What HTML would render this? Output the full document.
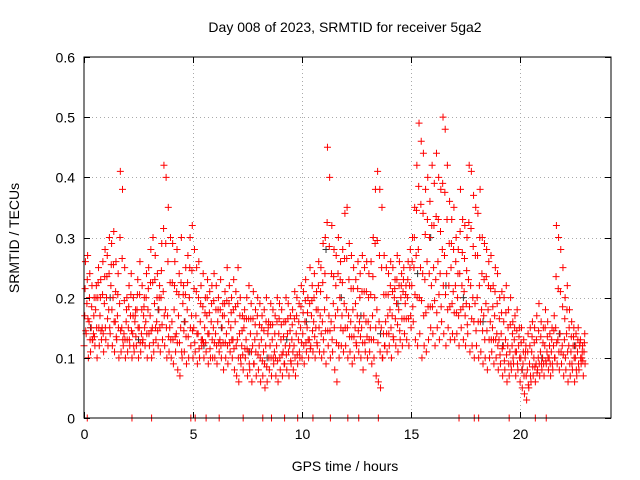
<!DOCTYPE html>
<html><head><meta charset="utf-8"><style>
html,body{margin:0;padding:0;background:#fff;}
svg{display:block;font-family:"Liberation Sans",sans-serif;}
</style></head><body>
<svg id="chart" width="640" height="480" viewBox="0 0 640 480">
<rect width="640" height="480" fill="#fff"/>
<g id="grid"></g>
<g id="pts"></g>
<rect x="84" y="57" width="527" height="361" fill="none" stroke="#000" stroke-width="1"/>
<g id="axes"></g>
<text x="345" y="32" text-anchor="middle" font-size="14">Day 008 of 2023, SRMTID for receiver 5ga2</text>
<text x="345" y="471" text-anchor="middle" font-size="14">GPS time / hours</text>
<text transform="translate(19,238) rotate(-90)" text-anchor="middle" font-size="14">SRMTID / TECUs</text>
</svg>
<script>
const xTicks=[0,5,10,15,20];
const yTicks=[0,0.1,0.2,0.3,0.4,0.5,0.6];
const yTickLabels=["0","0.1","0.2","0.3","0.4","0.5","0.6"];
const seriesHi=[.26,.27,.24,.22,.2,.22,.25,.23,.26,.28,.27,.3,.29,.31,.26,.24,.41,.38,.25,.2,.22,.24,.2,.18,.23,.26,.22,.2,.24,.25,.28,.3,.27,.24,.22,.29,.42,.4,.35,.3,.29,.26,.28,.24,.3,.22,.25,.27,.3,.32,.28,.25,.26,.22,.24,.2,.23,.21,.22,.24,.22,.2,.23,.19,.21,.25,.22,.2,.23,.21,.25,.2,.17,.18,.2,.22,.19,.21,.18,.2,.19,.17,.18,.2,.16,.19,.18,.17,.2,.19,.18,.16,.2,.19,.17,.18,.21,.2,.19,.22,.21,.23,.2,.25,.22,.24,.21,.26,.25,.29,.3,.45,.4,.32,.28,.27,.3,.26,.28,.34,.35,.29,.27,.25,.23,.26,.24,.27,.25,.26,.24,.26,.3,.38,.41,.38,.35,.27,.25,.24,.26,.25,.23,.27,.26,.24,.25,.22,.26,.28,.3,.35,.42,.49,.46,.44,.38,.4,.36,.42,.39,.44,.4,.38,.5,.48,.42,.36,.33,.35,.3,.28,.38,.33,.32,.3,.42,.41,.37,.35,.34,.38,.3,.29,.28,.26,.27,.22,.25,.24,.2,.21,.2,.22,.18,.2,.16,.17,.18,.15,.15,.13,.12,.14,.15,.16,.15,.17,.19,.16,.15,.18,.16,.14,.15,.17,.32,.3,.28,.25,.2,.22,.18,.16,.15,.14,.15,.13,.12,.14];
const seriesMid=[.17,.19,.16,.15,.14,.18,.2,.17,.15,.19,.2,.18,.22,.2,.16,.17,.19,.15,.14,.16,.15,.17,.14,.16,.18,.15,.14,.17,.16,.18,.17,.15,.19,.16,.18,.2,.21,.18,.17,.15,.16,.18,.14,.17,.15,.19,.16,.18,.2,.17,.15,.17,.14,.16,.13,.15,.17,.14,.16,.15,.14,.16,.13,.15,.17,.14,.16,.15,.13,.16,.13,.14,.12,.15,.13,.11,.14,.12,.13,.14,.12,.13,.11,.12,.14,.12,.13,.11,.12,.14,.13,.11,.12,.14,.12,.13,.12,.14,.13,.15,.14,.16,.15,.13,.17,.16,.15,.18,.17,.16,.18,.2,.17,.16,.19,.17,.18,.2,.17,.19,.18,.17,.16,.18,.15,.17,.16,.15,.17,.16,.16,.15,.17,.2,.18,.16,.15,.14,.16,.17,.18,.17,.2,.19,.18,.2,.21,.19,.2,.22,.22,.25,.27,.28,.25,.24,.23,.26,.24,.22,.25,.23,.26,.24,.28,.27,.24,.22,.25,.21,.22,.2,.24,.22,.21,.19,.23,.22,.2,.19,.2,.22,.18,.17,.19,.18,.16,.15,.17,.14,.13,.14,.12,.13,.12,.11,.12,.13,.11,.12,.1,.09,.1,.08,.09,.11,.1,.09,.1,.11,.1,.12,.11,.1,.11,.12,.15,.13,.14,.12,.13,.14,.12,.11,.12,.1,.11,.12,.1,.11];
const seriesLo=[.12,.14,.1,.11,.13,.12,.1,.12,.13,.11,.13,.12,.14,.12,.11,.13,.1,.11,.12,.1,.11,.12,.1,.11,.12,.1,.11,.13,.12,.1,.12,.1,.11,.13,.12,.11,.13,.12,.1,.11,.1,.09,.11,.08,.07,.1,.11,.09,.1,.12,.1,.11,.09,.1,.12,.1,.11,.09,.1,.1,.1,.09,.11,.1,.08,.1,.09,.11,.1,.08,.07,.06,.09,.08,.1,.07,.08,.06,.09,.07,.08,.06,.07,.05,.06,.08,.07,.09,.07,.06,.08,.07,.09,.08,.07,.09,.08,.07,.09,.1,.1,.09,.11,.1,.12,.11,.1,.12,.11,.1,.11,.09,.12,.1,.11,.08,.06,.1,.12,.11,.12,.1,.11,.09,.1,.12,.11,.1,.08,.11,.1,.11,.09,.1,.07,.06,.05,.1,.12,.11,.12,.1,.13,.12,.11,.13,.12,.14,.13,.12,.15,.16,.13,.12,.14,.1,.12,.11,.13,.15,.14,.12,.15,.13,.16,.14,.12,.15,.13,.14,.13,.14,.12,.15,.13,.12,.14,.11,.12,.1,.12,.1,.11,.09,.1,.08,.1,.11,.09,.1,.08,.09,.07,.08,.06,.07,.08,.09,.07,.08,.06,.05,.04,.03,.05,.06,.07,.06,.08,.07,.08,.07,.09,.08,.07,.08,.1,.09,.08,.09,.07,.08,.06,.07,.08,.06,.07,.08,.09,.07];
const grayTimes=[0.3,1.2,2.5,3.4,4.6,5.5,6.3,7.6,8.4,9.3,10.2,11.1,11.8,12.7,13.6,14.4,15.3,15.9,16.6,17.4,18.3,19.2,20.1,21.0,21.8,22.5];
const grayVals=[.15,.2,.13,.18,.16,.12,.15,.11,.1,.13,.16,.28,.2,.17,.14,.19,.24,.3,.22,.2,.16,.12,.08,.1,.14,.12];
const zeroTimes=[0.15,2.2,3.1,4.9,5.1,5.6,6.2,7.3,8.2,8.6,9.2,9.8,10.5,11.3,12.1,12.6,13.5,17.2,17.9,18.1,19.5,20.7,21.2];
const NS="http://www.w3.org/2000/svg";
const X0=84,X1=611,Y0=418,Y1=57,XMAX=24.17,YMAX=0.6;
function sx(t){return X0+(t/XMAX)*(X1-X0);}
function sy(v){return Y0-(v/YMAX)*(Y0-Y1);}
const grid=document.getElementById('grid'),axes=document.getElementById('axes'),pts=document.getElementById('pts');
function line(p,x1,y1,x2,y2,st,dash){const l=document.createElementNS(NS,'line');l.setAttribute('x1',x1);l.setAttribute('y1',y1);l.setAttribute('x2',x2);l.setAttribute('y2',y2);l.setAttribute('stroke',st);l.setAttribute('stroke-width',1);if(dash)l.setAttribute('stroke-dasharray',dash);p.appendChild(l);return l;}
xTicks.forEach(t=>{const x=Math.round(sx(t))+0.5;
 if(t>0){const g=line(grid,x,Y0,x,Y1,'#aaa','1,3');}
 const a=line(axes,x,Y0,x,Y0-6,'#000');
 const b=line(axes,x,Y1,x,Y1+6,'#000');
 const tx=document.createElementNS(NS,'text');tx.setAttribute('x',x);tx.setAttribute('y',Y0+21);tx.setAttribute('text-anchor','middle');tx.setAttribute('font-size','14');tx.textContent=t;
 
 
 axes.appendChild(tx);});
yTicks.forEach((v,i)=>{const y=Math.round(sy(v))+0.5;
 if(v>0&&v<YMAX){const g=line(grid,X0,y,X1,y,'#aaa','1,3');}
 const a=line(axes,X0,y,X0+6,y,'#000');
 const b=line(axes,X1,y,X1-6,y,'#000');
 const tx=document.createElementNS(NS,'text');tx.setAttribute('x',X0-9);tx.setAttribute('y',y+5);tx.setAttribute('text-anchor','end');tx.setAttribute('font-size','14');tx.textContent=yTickLabels[i];
 
 
 axes.appendChild(tx);});
function plus(t,v,col){const x=sx(t),y=sy(v);const p=document.createElementNS(NS,'path');
 p.setAttribute('d',`M${x-3.5} ${y}H${x+3.5}M${x} ${y-3.5}V${y+3.5}`);p.setAttribute('stroke',col);p.setAttribute('stroke-width','1');p.setAttribute('fill','none');
 
 
 pts.appendChild(p);}
grayTimes.forEach((t,i)=>plus(t,grayVals[i],'#333'));
[seriesLo,seriesMid,seriesHi].forEach((s,k)=>s.forEach((v,i)=>plus(i*0.1+k*0.033,v,'#f00')));
// extra interleaved points between series for density
seriesMid.forEach((v,i)=>plus(i*0.1+0.05,(v+seriesHi[i])/2,'#f00'));
seriesMid.forEach((v,i)=>plus(i*0.1+0.08,(v+seriesLo[i])/2,'#f00'));
zeroTimes.forEach(t=>plus(t,0,'#f00'));
</script>
</body></html>
